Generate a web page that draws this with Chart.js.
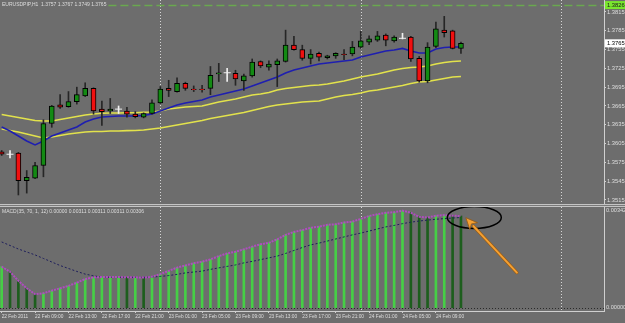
<!DOCTYPE html>
<html>
<head>
<meta charset="utf-8">
<script src="https://cdn.jsdelivr.net/npm/chart.js@4.4.1/dist/chart.umd.min.js"></script>
<style>
  html, body { margin: 0; padding: 0; background: #6d6d6d; overflow: hidden; }
  #wrap { position: relative; width: 625px; height: 323px; }
  #price { position: absolute; left: 0; top: 0; }
  #sep { position: absolute; left: 0; top: 204px; width: 625px; height: 1px;
         border-top: 1px solid #c4c4c4; border-bottom: 1px solid #c4c4c4; background: #7a7a7a; }
  #macd { position: absolute; left: 0; top: 207px; }
</style>
</head>
<body>
<div id="wrap">
  <canvas id="price" width="625" height="204"></canvas>
  <div id="sep"></div>
  <canvas id="macd" width="625" height="116"></canvas>
</div>
<script>
// EURUSDPIP H1, bar 0 = 22 Feb 05:00
const opens  = [1.3592,1.3588,1.3590,1.3546,1.3550,1.3570,1.3637,1.3667,1.3664,1.3672,
                1.3681,1.3693,1.3660,1.3657,1.3660,1.3657,1.3652,1.3647,1.3653,1.3670,
                1.3693,1.3688,1.3701,1.3692,1.3692,1.3693,1.3716,1.3718,1.3717,1.3705,
                1.3713,1.3736,1.3727,1.3731,1.3736,1.3762,1.3755,1.3741,1.3749,1.3742,
                1.3745,1.3748,1.3748,1.3759,1.3767,1.3770,1.3778,1.3769,1.3773,1.3775,
                1.3741,1.3705,1.3760,1.3786,1.3785,1.3757]
const highs  = [1.3594,1.3594,1.3591,1.3562,1.3575,1.3643,1.3666,1.3683,1.3688,1.3695,
                1.3702,1.3694,1.3673,1.3677,1.3665,1.3663,1.3656,1.3654,1.3675,1.3696,
                1.3706,1.3710,1.3703,1.3697,1.3698,1.3728,1.3733,1.3725,1.3722,1.3716,
                1.3740,1.3737,1.3737,1.3740,1.3786,1.3776,1.3762,1.3755,1.3751,1.3746,
                1.3750,1.3755,1.3768,1.3784,1.3777,1.3784,1.3780,1.3777,1.3781,1.3776,
                1.3744,1.3766,1.3799,1.3808,1.3786,1.3767]
const lows   = [1.3586,1.3582,1.3523,1.3526,1.3549,1.3552,1.3631,1.3661,1.3663,1.3668,
                1.3680,1.3652,1.3634,1.3653,1.3653,1.3647,1.3646,1.3646,1.3652,1.3669,
                1.3680,1.3687,1.3690,1.3688,1.3687,1.3683,1.3704,1.3704,1.3698,1.3690,
                1.3711,1.3726,1.3722,1.3696,1.3735,1.3754,1.3738,1.3732,1.3737,1.3740,
                1.3741,1.3739,1.3745,1.3757,1.3763,1.3768,1.3761,1.3767,1.3772,1.3736,
                1.3703,1.3702,1.3758,1.3775,1.3756,1.3749]
const closes = [1.3588,1.3588,1.3546,1.3551,1.3570,1.3637,1.3665,1.3663,1.3672,1.3683,
                1.3693,1.3657,1.3656,1.3660,1.3660,1.3652,1.3648,1.3653,1.3670,1.3692,
                1.3690,1.3701,1.3693,1.3691,1.3691,1.3714,1.3718,1.3718,1.3708,1.3713,
                1.3735,1.3729,1.3732,1.3737,1.3762,1.3755,1.3741,1.3748,1.3743,1.3745,
                1.3749,1.3747,1.3759,1.3769,1.3772,1.3777,1.3770,1.3775,1.3773,1.3740,
                1.3705,1.3759,1.3788,1.3782,1.3757,1.3765]

// moving averages
const maBlue = [1.36315,1.36251,1.36171,1.36092,1.36028,1.36092,1.36171,1.36219,1.36267,1.36315,
                1.36395,1.36443,1.36475,1.36483,1.36490,1.36490,1.36490,1.36498,1.36522,1.36570,
                1.36618,1.36666,1.36698,1.36722,1.36746,1.36794,1.36826,1.36858,1.36889,1.36921,
                1.36969,1.37017,1.37065,1.37113,1.37177,1.37225,1.37256,1.37288,1.37320,1.37336,
                1.37352,1.37368,1.37384,1.37432,1.37464,1.37496,1.37528,1.37544,1.37568,1.37528,
                1.37496,1.37496,1.37560,1.37584,1.37592,1.37592]
const maUpper = [1.36514,1.36490,1.36467,1.36443,1.36419,1.36411,1.36411,1.36435,1.36459,1.36483,
                 1.36506,1.36522,1.36534,1.36538,1.36538,1.36542,1.36543,1.36550,1.36554,1.36570,
                 1.36602,1.36618,1.36634,1.36642,1.36650,1.36682,1.36714,1.36738,1.36762,1.36794,
                 1.36826,1.36842,1.36866,1.36905,1.36929,1.36945,1.36961,1.36977,1.36985,1.37001,
                 1.37025,1.37049,1.37081,1.37113,1.37137,1.37161,1.37193,1.37225,1.37248,1.37264,
                 1.37272,1.37288,1.37320,1.37344,1.37360,1.37368]
const maLower = [1.36283,1.36259,1.36235,1.36203,1.36171,1.36139,1.36155,1.36179,1.36203,1.36219,
                 1.36235,1.36243,1.36243,1.36251,1.36251,1.36256,1.36259,1.36267,1.36283,1.36299,
                 1.36323,1.36347,1.36371,1.36395,1.36419,1.36451,1.36475,1.36498,1.36522,1.36546,
                 1.36578,1.36610,1.36642,1.36666,1.36682,1.36698,1.36714,1.36722,1.36730,1.36762,
                 1.36794,1.36818,1.36834,1.36858,1.36889,1.36905,1.36929,1.36953,1.36977,1.37009,
                 1.37033,1.37041,1.37065,1.37089,1.37113,1.37121]

// MACD(35, 70, 1, 12)
const macdMain = [0.00139,0.00122,0.00091,0.00066,0.00046,0.00049,0.00058,0.00066,0.00074,0.00085,
                  0.00097,0.00103,0.00104,0.00104,0.00104,0.00103,0.00103,0.00102,0.00105,0.00114,
                  0.00125,0.00136,0.00143,0.00151,0.00156,0.00164,0.00175,0.00184,0.00190,0.00198,
                  0.00207,0.00215,0.00220,0.00232,0.00247,0.00257,0.00263,0.00271,0.00275,0.00281,
                  0.00283,0.00289,0.00292,0.00301,0.00311,0.00317,0.00322,0.00324,0.00329,0.00322,
                  0.00308,0.00306,0.00312,0.00314,0.00312,0.00311]
const macdSignal = [0.00223,0.00211,0.00199,0.00189,0.00179,0.00167,0.00155,0.00143,0.00133,0.00123,
                    0.00114,0.00108,0.00104,0.00103,0.00103,0.00103,0.00103,0.00103,0.00104,0.00106,
                    0.00109,0.00113,0.00118,0.00121,0.00124,0.00130,0.00135,0.00140,0.00145,0.00152,
                    0.00157,0.00163,0.00169,0.00175,0.00184,0.00194,0.00204,0.00213,0.00219,0.00226,
                    0.00233,0.00240,0.00247,0.00253,0.00260,0.00267,0.00274,0.00279,0.00285,0.00290,
                    0.00294,0.00297,0.00300,0.00302,0.00304,0.00306]

const priceTicks = [1.3815,1.3785,1.3755,1.3725,1.3695,1.3665,1.3635,1.3605,1.3575,1.3545,1.3515]
const alertLevel = 1.3826
const macdTop = 0.00342
const timeLabels = ['22 Feb 2011','22 Feb 09:00','22 Feb 13:00','22 Feb 17:00','22 Feb 21:00',
                    '23 Feb 01:00','23 Feb 05:00','23 Feb 09:00','23 Feb 13:00','23 Feb 17:00',
                    '23 Feb 21:00','24 Feb 01:00','24 Feb 05:00','24 Feb 09:00']
const labelBars = [0,4,8,12,16,20,24,28,32,36,40,44,48,52]
const daySeparators = [19,43,67]
const titleText = 'EURUSDPIP,H1  1.3757 1.3767 1.3749 1.3765'
const macdText = 'MACD(35, 70, 1, 12) 0.00000 0.00311 0.00311 0.00311 0.00306'

const FONT = "'Liberation Sans', Arial, sans-serif"
const TXT = '#dedede'
const xMin = -0.2
const xMax = 72.13

Chart.defaults.font.family = FONT
Chart.defaults.animation = false

const idx = opens.map((_, i) => i)
const isDoji = (i) => opens[i] === closes[i]
const bodyIdx = idx.filter((i) => !isDoji(i))

const dayLines = {
  id: 'dayLines',
  beforeDatasetsDraw(chart) {
    const { ctx, chartArea: a, scales } = chart
    ctx.save()
    ctx.strokeStyle = '#d6d6d6'
    ctx.lineWidth = 1
    ctx.setLineDash([1, 2])
    daySeparators.forEach((b) => {
      const px = Math.round(scales.x.getPixelForValue(b)) + 0.5
      ctx.beginPath()
      ctx.moveTo(px, a.top)
      ctx.lineTo(px, a.bottom)
      ctx.stroke()
    })
    ctx.restore()
  },
}

const priceExtras = {
  id: 'priceExtras',
  beforeDatasetsDraw(chart) {
    const { ctx, chartArea: a, scales } = chart
    ctx.save()
    ctx.font = `5px ${FONT}`
    const startX = 4 + ctx.measureText(titleText).width
    const y = Math.round(scales.y.getPixelForValue(alertLevel)) + 0.5
    ctx.strokeStyle = '#6aa84f'
    ctx.lineWidth = 1.5
    ctx.setLineDash([8, 4])
    ctx.beginPath()
    ctx.moveTo(startX, y)
    ctx.lineTo(a.right, y)
    ctx.stroke()
    ctx.restore()
  },
  afterDraw(chart) {
    const { ctx, chartArea: a, scales } = chart
    ctx.save()
    ctx.font = `5px ${FONT}`
    ctx.fillStyle = TXT
    ctx.textBaseline = 'top'
    ctx.fillText(titleText, 2, 2)

    const box = (val, bg, fg) => {
      const y = scales.y.getPixelForValue(val)
      ctx.fillStyle = bg
      ctx.fillRect(a.right + 1, y - 4, 20, 8)
      ctx.fillStyle = fg
      ctx.font = `5.8px ${FONT}`
      ctx.textBaseline = 'middle'
      ctx.fillText(val.toFixed(4), a.right + 3, y + 0.5)
    }
    box(alertLevel, '#7ae62e', '#1a1a1a')
    box(closes[closes.length - 1], '#ffffff', '#000000')
    ctx.restore()
  },
}

new Chart('price', {
  type: 'bar',
  data: {
    datasets: [
      {
        type: 'line',
        label: 'doji',
        data: idx.filter(isDoji).map((i) => ({ x: i, y: opens[i] })),
        showLine: false,
        pointStyle: 'line',
        pointRadius: 3.5,
        pointBorderColor: '#f0f0f0',
        pointBorderWidth: 1,
        order: 0,
      },
      {
        label: 'body',
        data: bodyIdx.map((i) => ({ x: i, y: [opens[i], closes[i]] })),
        backgroundColor: bodyIdx.map((i) => (closes[i] > opens[i] ? '#138a13' : '#f01010')),
        borderColor: '#000000',
        borderWidth: 1,
        borderSkipped: false,
        barThickness: 5,
        grouped: false,
        order: 1,
      },
      {
        label: 'wick',
        data: idx.map((i) => ({ x: i, y: [lows[i], highs[i]] })),
        backgroundColor: idx.map((i) => (isDoji(i) ? '#f0f0f0' : '#262626')),
        barThickness: 1,
        grouped: false,
        order: 2,
      },
      {
        type: 'line',
        label: 'MA fast',
        data: idx.map((i) => ({ x: i, y: maBlue[i] })),
        borderColor: '#1f1fb0',
        borderWidth: 1.6,
        pointRadius: 0,
        order: 3,
      },
      {
        type: 'line',
        label: 'MA upper',
        data: idx.map((i) => ({ x: i, y: maUpper[i] })),
        borderColor: '#e2e24c',
        borderWidth: 1.6,
        pointRadius: 0,
        order: 4,
      },
      {
        type: 'line',
        label: 'MA lower',
        data: idx.map((i) => ({ x: i, y: maLower[i] })),
        borderColor: '#e2e24c',
        borderWidth: 1.6,
        pointRadius: 0,
        order: 4,
      },
    ],
  },
  options: {
    responsive: false,
    layout: { padding: 0, autoPadding: false },
    plugins: { legend: { display: false }, tooltip: { enabled: false } },
    scales: {
      x: {
        type: 'linear',
        min: xMin,
        max: xMax,
        offset: false,
        display: false,
      },
      y: {
        type: 'linear',
        position: 'right',
        min: 1.35086,
        max: 1.38341,
        bounds: 'data',
        beginAtZero: false,
        afterBuildTicks: (s) => { s.ticks = priceTicks.map((v) => ({ value: v })) },
        afterFit: (s) => { s.width = 21; s.paddingTop = 0; s.paddingBottom = 0 },
        grid: { drawOnChartArea: false, drawTicks: true, tickLength: 2, tickColor: '#d0d0d0' },
        border: { display: true, color: '#d0d0d0', width: 1 },
        ticks: {
          color: TXT,
          padding: 1,
          font: { size: 5.8 },
          callback: (v) => Number(v).toFixed(4),
        },
      },
    },
  },
  plugins: [dayLines, priceExtras],
})

const macdExtras = {
  id: 'macdExtras',
  beforeDatasetsDraw(chart) {
    const { ctx, chartArea: a, scales } = chart
    ctx.save()
    const y = Math.round(scales.y.getPixelForValue(0)) + 0.5
    ctx.strokeStyle = '#2a2a2a'
    ctx.setLineDash([1, 2])
    ctx.beginPath()
    ctx.moveTo(a.left, y)
    ctx.lineTo(a.right, y)
    ctx.stroke()
    ctx.restore()
  },
  afterDraw(chart) {
    const { ctx, chartArea: a, scales } = chart
    const { x, y } = scales
    ctx.save()
    ctx.font = `5px ${FONT}`
    ctx.fillStyle = TXT
    ctx.textBaseline = 'top'
    ctx.fillText(macdText, 2, a.top + 2)

    // right axis labels
    ctx.font = `5.6px ${FONT}`
    ctx.fillText(macdTop.toFixed(5), a.right + 2, a.top + 1)
    ctx.textBaseline = 'middle'
    ctx.fillText((0).toFixed(5), a.right + 2, y.getPixelForValue(0))

    // circle around the last bars
    ctx.strokeStyle = '#000000'
    ctx.lineWidth = 1.5
    ctx.beginPath()
    ctx.ellipse(x.getPixelForValue(56.6), y.getPixelForValue(0.00306), 27, 11, 0, 0, Math.PI * 2)
    ctx.stroke()

    // arrow
    const tx = x.getPixelForValue(55.6)
    const ty = y.getPixelForValue(0.00304)
    const fx = x.getPixelForValue(61.7)
    const fy = y.getPixelForValue(0.00119)
    const ang = Math.atan2(ty - fy, tx - fx)
    const hx = tx - Math.cos(ang) * 11
    const hy = ty - Math.sin(ang) * 11
    ctx.lineCap = 'round'
    ctx.strokeStyle = '#9a5c12'
    ctx.lineWidth = 3.2
    ctx.beginPath()
    ctx.moveTo(fx, fy)
    ctx.lineTo(hx, hy)
    ctx.stroke()
    ctx.strokeStyle = '#f4a033'
    ctx.lineWidth = 2
    ctx.beginPath()
    ctx.moveTo(fx, fy)
    ctx.lineTo(hx, hy)
    ctx.stroke()
    ctx.beginPath()
    ctx.moveTo(tx, ty)
    ctx.lineTo(hx + Math.sin(ang) * 5, hy - Math.cos(ang) * 5)
    ctx.lineTo(hx + Math.cos(ang) * 3, hy + Math.sin(ang) * 3)
    ctx.lineTo(hx - Math.sin(ang) * 5, hy + Math.cos(ang) * 5)
    ctx.closePath()
    ctx.fillStyle = '#f4a033'
    ctx.fill()
    ctx.strokeStyle = '#9a5c12'
    ctx.lineWidth = 0.8
    ctx.stroke()
    ctx.restore()
  },
}

new Chart('macd', {
  type: 'bar',
  data: {
    datasets: [
      {
        type: 'line',
        label: 'MACD',
        data: idx.map((i) => ({ x: i, y: macdMain[i] })),
        borderColor: '#b04cc0',
        borderWidth: 2,
        borderDash: [2, 1],
        pointRadius: 0,
        order: 1,
      },
      {
        type: 'line',
        label: 'Signal',
        data: idx.map((i) => ({ x: i, y: macdSignal[i] })),
        borderColor: '#1e1e5c',
        borderWidth: 1,
        borderDash: [2, 2],
        pointRadius: 0,
        order: 2,
      },
      {
        label: 'Histogram',
        data: idx.map((i) => ({ x: i, y: macdMain[i] })),
        backgroundColor: idx.map((i) => (i > 0 && macdMain[i] < macdMain[i - 1] ? '#1d5e1d' : '#46cf46')),
        barThickness: 2,
        grouped: false,
        order: 3,
      },
    ],
  },
  options: {
    responsive: false,
    layout: { padding: { top: 0, left: 0, right: 0, bottom: 0 }, autoPadding: false },
    plugins: { legend: { display: false }, tooltip: { enabled: false } },
    scales: {
      x: {
        type: 'linear',
        position: 'bottom',
        min: xMin,
        max: xMax,
        offset: false,
        afterBuildTicks: (s) => { s.ticks = labelBars.map((v) => ({ value: v })) },
        afterFit: (s) => { s.height = 12; s.paddingLeft = 0; s.paddingRight = 0 },
        grid: { drawOnChartArea: false, drawTicks: true, tickLength: 2, tickColor: '#cfcfcf', offset: false },
        border: { display: true, color: '#cfcfcf', width: 1 },
        ticks: {
          autoSkip: false,
          maxRotation: 0,
          align: 'start',
          padding: 1,
          color: TXT,
          font: { size: 4.8 },
          callback: (v, i) => timeLabels[i],
        },
      },
      y: {
        type: 'linear',
        position: 'right',
        min: -0.000112,
        max: 0.003415,
        bounds: 'data',
        beginAtZero: false,
        afterFit: (s) => { s.width = 21; s.paddingTop = 0; s.paddingBottom = 0 },
        grid: { drawOnChartArea: false, drawTicks: false },
        border: { display: true, color: '#cfcfcf', width: 1 },
        ticks: { display: false },
      },
    },
  },
  plugins: [dayLines, macdExtras],
})
</script>
</body>
</html>
